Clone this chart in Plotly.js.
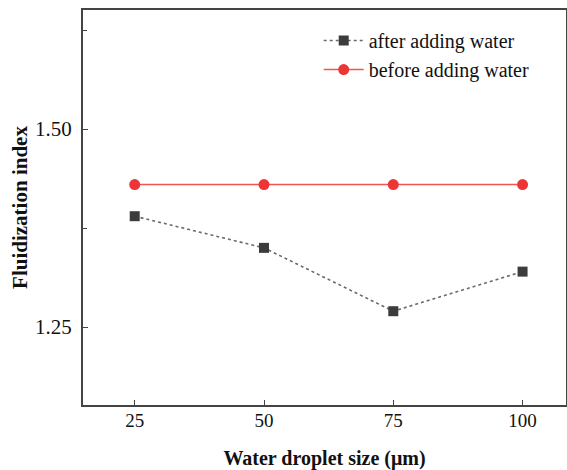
<!DOCTYPE html>
<html><head><meta charset="utf-8">
<script src="https://cdn.plot.ly/plotly-3.0.1.min.js"></script>
<style>body{margin:0;background:#fff}#c{width:567px;height:470px}</style>
</head><body><div id="c"></div>
<script>
const dropletSize = [25, 50, 75, 100];
const afterWater = [1.39, 1.35, 1.27, 1.32];
const beforeWater = [1.43, 1.43, 1.43, 1.43];
const seriesNames = ["after adding water", "before adding water"];

const serif = "Liberation Serif, Times New Roman, serif";
const traces = [
  {x: dropletSize, y: afterWater, name: seriesNames[0], type: "scatter", mode: "lines+markers",
   line: {color: "#6a6a6a", width: 1.6, dash: "dot"},
   marker: {symbol: "square", size: 10, color: "#3c3c3c"}},
  {x: dropletSize, y: beforeWater, name: seriesNames[1], type: "scatter", mode: "lines+markers",
   line: {color: "#f25454", width: 1.6},
   marker: {symbol: "circle", size: 11, color: "#ee3535"}}
];
const layout = {
  width: 567, height: 470,
  margin: {l: 83, r: 1, t: 10, b: 65},
  paper_bgcolor: "#fff", plot_bgcolor: "#fff",
  font: {family: serif, size: 19, color: "#111"},
  showlegend: true,
  legend: {x: 0.488, y: 0.972, xanchor: "left", yanchor: "top", bgcolor: "rgba(0,0,0,0)",
           font: {family: serif, size: 20, color: "#111"}, tracegroupgap: 0, itemwidth: 40},
  xaxis: {range: [15, 108.4], tickvals: dropletSize, ticks: "inside", ticklen: 5, tickcolor: "#444",
          showgrid: false, zeroline: false, showline: true, linecolor: "#444", linewidth: 2, mirror: true,
          tickfont: {family: serif, size: 19, color: "#111"}, ticklabelstandoff: -3,
          title: {text: "<b>Water droplet size (μm)</b>", font: {family: serif, size: 20, color: "#111"}, standoff: 23}},
  yaxis: {range: [1.1515, 1.6505], tick0: 1.25, dtick: 0.25, tickformat: ".2f", ticks: "inside", ticklen: 5, tickcolor: "#444",
          minor: {dtick: 0.125, tick0: 1.25, ticks: "inside", ticklen: 4, tickcolor: "#444"},
          showgrid: false, zeroline: false, showline: true, linecolor: "#444", linewidth: 2, mirror: true,
          tickfont: {family: serif, size: 21, color: "#111"}, ticklabelstandoff: 5,
          title: {text: "<b>Fluidization index</b>", font: {family: serif, size: 21, color: "#111"}, standoff: 2}}
};
Plotly.newPlot("c", traces, layout, {displayModeBar: false, staticPlot: true});
</script></body></html>
